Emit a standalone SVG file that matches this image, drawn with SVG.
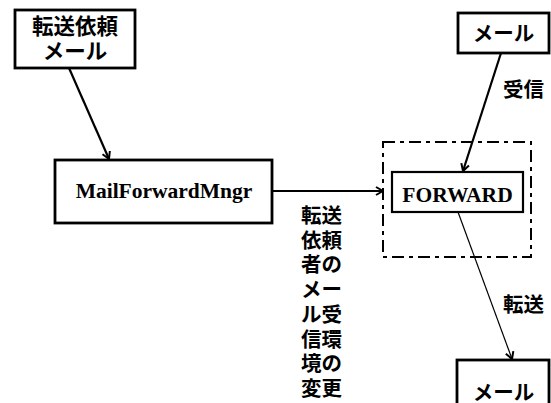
<svg xmlns="http://www.w3.org/2000/svg" width="551" height="403" viewBox="0 0 551 403">
<style>
  .box { fill: #fff; stroke: #000; stroke-width: 2.8; }
  .t { font-family: "Liberation Serif", "Noto Sans CJK JP", serif; font-weight: bold; font-size: 20.5px; fill: #000; }
  .big { font-size: 21.5px; }
  .c { text-anchor: middle; }
  .conn { fill: none; stroke: #000; stroke-width: 2.2; }
  .thin { fill: none; stroke: #000; stroke-width: 1.2; }
  .frame { fill: none; stroke: #000; stroke-width: 2; stroke-dasharray: 12 5 4 5; }
</style>
<defs>
  <marker id="arr" viewBox="0 0 10 10" refX="9" refY="5" markerWidth="10" markerHeight="10" markerUnits="userSpaceOnUse" orient="auto">
    <path d="M2,1 L9,5 L2,9" fill="none" stroke="#000" stroke-width="2"/>
  </marker>
</defs>
<rect width="551" height="403" fill="#fff"/>
<g id="connectors">
  <line class="conn" x1="69" y1="68" x2="109" y2="159" marker-end="url(#arr)"/>
  <line class="conn" x1="272" y1="191" x2="383" y2="191" marker-end="url(#arr)"/>
  <line class="conn" x1="501" y1="53" x2="463" y2="171" marker-end="url(#arr)"/>
  <line class="thin" x1="458" y1="212" x2="512" y2="359" marker-end="url(#arr)"/>
  <text class="t" x="503" y="97">受信</text>
  <text class="t" x="503" y="312">転送</text>
  <text class="t" x="301">
    <tspan x="301" y="223">転送</tspan>
    <tspan x="301" y="247.7">依頼</tspan>
    <tspan x="301" y="272.4">者の</tspan>
    <tspan x="301" y="297.1">メー</tspan>
    <tspan x="301" y="321.8">ル受</tspan>
    <tspan x="301" y="346.5">信環</tspan>
    <tspan x="301" y="371.2">境の</tspan>
    <tspan x="301" y="395.9">変更</tspan>
  </text>
</g>
<g id="frame">
  <rect class="frame" x="383" y="142" width="148" height="115"/>
</g>
<g id="node-request">
  <rect class="box" x="15" y="10" width="120" height="58"/>
  <text class="t big c" x="75" y="34">転送依頼</text>
  <text class="t big c" x="75" y="59">メール</text>
</g>
<g id="node-mgr">
  <rect class="box" x="55" y="160" width="217" height="63"/>
  <text class="t big c" x="164" y="198">MailForwardMngr</text>
</g>
<g id="node-forward">
  <rect class="box" x="392" y="172" width="131" height="40" style="stroke-width:2.2"/>
  <text class="t big c" x="457.5" y="202">FORWARD</text>
</g>
<g id="node-mail-in">
  <rect class="box" x="458" y="13" width="91" height="40"/>
  <text class="t c" x="503.5" y="41">メール</text>
</g>
<g id="node-mail-out">
  <rect class="box" x="457" y="360" width="92" height="50"/>
  <text class="t c" x="503.5" y="400">メール</text>
</g>
</svg>
